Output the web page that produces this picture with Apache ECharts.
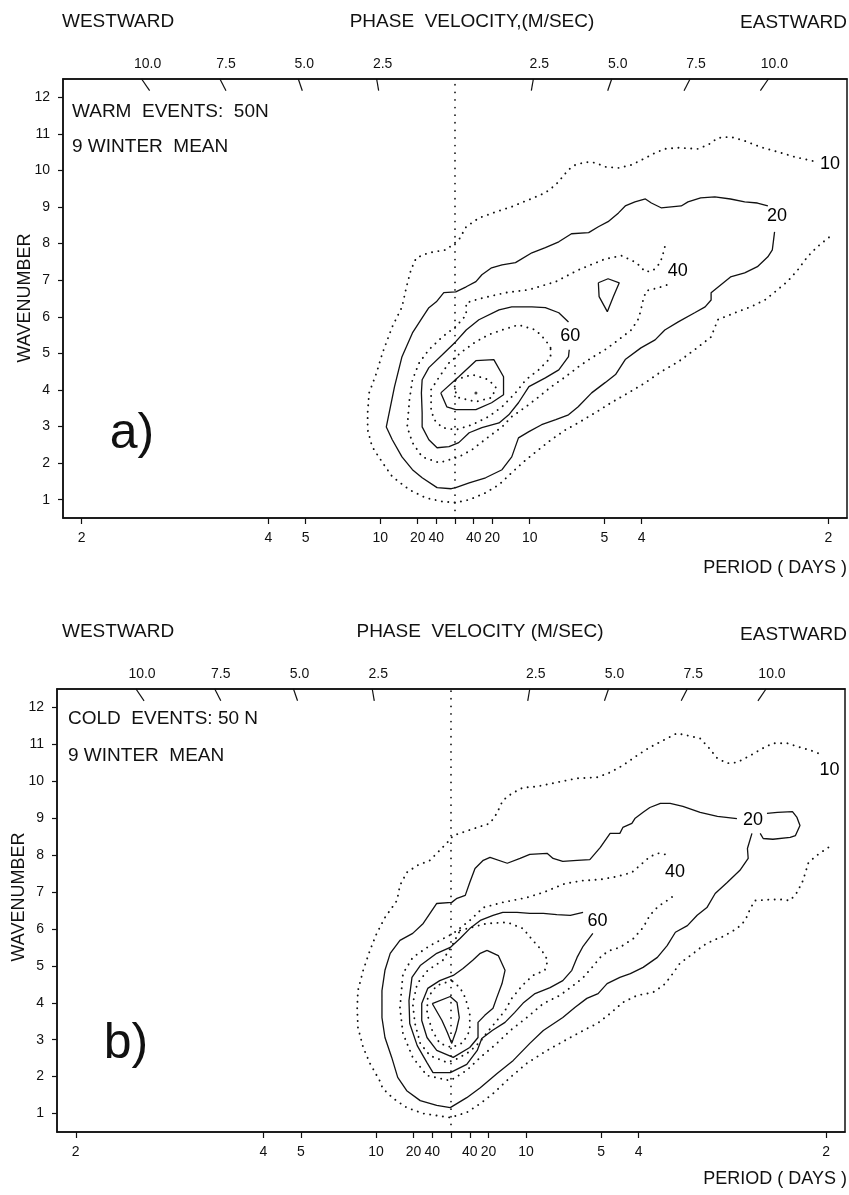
<!DOCTYPE html>
<html><head><meta charset="utf-8">
<script src="https://cdn.jsdelivr.net/npm/echarts@6/dist/echarts.min.js"></script>
<style>html,body{margin:0;padding:0;background:#fff}#c{width:849px;height:1195px}</style>
</head><body><div id="c"></div>
<script>
// ---------- axis data ----------
const periodDays = [2, 4, 5, 10, 20, 40];              // period tick labels (days), both directions
const velocityTicks = [2.5, 5.0, 7.5, 10.0];            // phase velocity tick labels (m/s)
const wavenumberTicks = [1,2,3,4,5,6,7,8,9,10,11,12];
const LATITUDE = 50;                                    // deg N
const FREQ_MIN = -0.525, FREQ_MAX = 0.525;              // cycles/day
const K_MIN = 0.5, K_MAX = 12.5;

// ---------- panel a: warm events (frequency cpd, wavenumber) ----------
const warmRing1 = [[0.479,10.26],[0.455,10.37],[0.432,10.51],[0.409,10.64],[0.388,10.81],[0.369,10.92],[0.352,10.89],[0.339,10.70],[0.325,10.59],[0.299,10.62],[0.281,10.59],[0.268,10.48],[0.255,10.34],[0.236,10.15],[0.219,10.07],[0.201,10.10],[0.188,10.21],[0.175,10.23],[0.161,10.15],[0.152,10.02],[0.143,9.80],[0.135,9.61],[0.121,9.39],[0.099,9.20],[0.076,9.01],[0.055,8.87],[0.032,8.70],[0.015,8.46],[0.005,8.10],[-0.012,7.83],[-0.035,7.75],[-0.052,7.61],[-0.059,7.28],[-0.065,6.82],[-0.071,6.27],[-0.084,5.73],[-0.097,5.02],[-0.105,4.47],[-0.115,3.92],[-0.117,3.38],[-0.117,2.91],[-0.111,2.45],[-0.097,2.01],[-0.084,1.63],[-0.061,1.27],[-0.039,1.05],[-0.017,0.95],[0.001,0.92],[0.019,1.00],[0.041,1.19],[0.059,1.41],[0.076,1.74],[0.095,2.09],[0.112,2.37],[0.129,2.64],[0.148,2.91],[0.165,3.10],[0.188,3.38],[0.209,3.65],[0.232,3.92],[0.255,4.20],[0.276,4.50],[0.299,4.77],[0.321,5.10],[0.343,5.45],[0.352,5.92],[0.375,6.11],[0.396,6.27],[0.415,6.46],[0.432,6.74],[0.445,6.96],[0.459,7.28],[0.472,7.64],[0.485,7.91],[0.505,8.24]];
const warmRing2 = [[0.419,9.03],[0.405,9.11],[0.388,9.14],[0.369,9.22],[0.348,9.28],[0.329,9.25],[0.312,9.14],[0.303,9.03],[0.276,8.98],[0.263,9.11],[0.255,9.22],[0.241,9.14],[0.228,9.03],[0.219,8.84],[0.205,8.60],[0.192,8.46],[0.179,8.30],[0.156,8.27],[0.139,8.05],[0.121,7.89],[0.103,7.75],[0.081,7.48],[0.063,7.42],[0.049,7.34],[0.036,7.15],[0.028,6.96],[0.015,6.82],[0.001,6.68],[-0.015,6.66],[-0.025,6.41],[-0.035,6.25],[-0.044,5.97],[-0.057,5.56],[-0.071,4.91],[-0.081,4.09],[-0.092,2.99],[-0.084,2.64],[-0.071,2.17],[-0.057,1.82],[-0.044,1.60],[-0.024,1.33],[-0.005,1.30],[0.001,1.33],[0.019,1.46],[0.041,1.60],[0.063,1.82],[0.076,2.17],[0.085,2.69],[0.099,2.86],[0.116,3.05],[0.135,3.19],[0.152,3.32],[0.165,3.54],[0.183,3.92],[0.201,4.20],[0.215,4.42],[0.228,4.83],[0.249,5.15],[0.268,5.37],[0.281,5.64],[0.299,5.86],[0.321,6.11],[0.335,6.27],[0.343,6.46],[0.343,6.66],[0.369,7.09],[0.388,7.20],[0.405,7.37],[0.419,7.64],[0.425,7.83],[0.428,8.32]];
const warmRing3 = [[0.281,7.91],[0.279,7.75],[0.275,7.48],[0.265,7.26],[0.255,7.23],[0.243,7.48],[0.223,7.67],[0.201,7.58],[0.165,7.28],[0.135,6.96],[0.099,6.74],[0.068,6.66],[0.032,6.49],[0.015,6.38],[0.015,6.05],[0.001,5.73],[-0.017,5.45],[-0.035,5.10],[-0.048,4.74],[-0.057,4.28],[-0.061,3.73],[-0.064,2.99],[-0.057,2.56],[-0.044,2.17],[-0.021,2.01],[0.005,2.17],[0.023,2.37],[0.045,2.72],[0.063,2.99],[0.076,3.27],[0.095,3.54],[0.112,3.81],[0.129,4.09],[0.148,4.36],[0.165,4.63],[0.183,4.88],[0.201,5.10],[0.219,5.37],[0.236,5.64],[0.245,5.92],[0.248,6.11],[0.252,6.46],[0.256,6.71],[0.272,6.79],[0.288,6.90]];
const warmIsland = [[0.192,6.93],[0.205,7.04],[0.220,6.93],[0.212,6.55],[0.204,6.14],[0.193,6.55],[0.192,6.93]];
const warmRing4 = [[0.152,5.86],[0.139,6.11],[0.121,6.25],[0.103,6.27],[0.076,6.27],[0.059,6.19],[0.032,5.92],[0.015,5.64],[0.001,5.32],[-0.017,4.96],[-0.035,4.61],[-0.044,4.28],[-0.045,3.92],[-0.044,3.38],[-0.044,2.99],[-0.035,2.64],[-0.024,2.42],[-0.008,2.45],[0.005,2.56],[0.019,2.83],[0.036,2.97],[0.059,3.10],[0.072,3.32],[0.085,3.65],[0.099,4.09],[0.121,4.33],[0.139,4.55],[0.152,4.91],[0.153,5.10]];
const warmRing5 = [[0.128,5.15],[0.121,5.37],[0.108,5.64],[0.085,5.78],[0.063,5.64],[0.045,5.51],[0.028,5.32],[0.009,5.04],[-0.008,4.74],[-0.021,4.36],[-0.032,4.01],[-0.032,3.46],[-0.028,3.19],[-0.017,2.97],[0.001,2.91],[0.023,3.05],[0.045,3.27],[0.063,3.54],[0.081,3.92],[0.095,4.28],[0.112,4.55],[0.128,4.88],[0.128,5.15]];
const warmRing6 = [[-0.019,3.92],[0.005,4.36],[0.028,4.80],[0.052,4.83],[0.065,4.36],[0.065,3.87],[0.049,3.65],[0.028,3.46],[0.001,3.46],[-0.011,3.54],[-0.019,3.92]];
const warmRing7 = [[0.001,4.28],[0.023,4.42],[0.045,4.28],[0.055,4.06],[0.049,3.79],[0.028,3.68],[0.005,3.79],[-0.001,4.01],[0.001,4.28]];
const warmPeak = [[0.028,3.92]];
const warmLabels = [[0.503,10.15,'10'],[0.432,8.73,'20'],[0.299,7.23,'40'],[0.155,5.45,'60']];

// ---------- panel b: cold events ----------
const coldRing1 = [[0.489,10.76],[0.479,10.84],[0.465,10.92],[0.448,11.03],[0.429,11.03],[0.415,10.89],[0.399,10.70],[0.381,10.51],[0.368,10.49],[0.355,10.62],[0.343,10.92],[0.332,11.16],[0.315,11.24],[0.301,11.30],[0.283,11.11],[0.265,10.92],[0.248,10.70],[0.229,10.43],[0.212,10.24],[0.195,10.11],[0.168,10.08],[0.141,9.97],[0.115,9.86],[0.096,9.83],[0.081,9.67],[0.069,9.48],[0.061,9.13],[0.052,8.86],[0.035,8.75],[0.016,8.62],[0.003,8.53],[-0.005,8.34],[-0.015,8.13],[-0.028,7.86],[-0.045,7.72],[-0.059,7.53],[-0.068,7.18],[-0.072,6.77],[-0.088,6.31],[-0.099,5.88],[-0.108,5.42],[-0.117,4.88],[-0.124,4.33],[-0.125,3.87],[-0.124,3.33],[-0.117,2.79],[-0.108,2.36],[-0.095,1.89],[-0.091,1.68],[-0.077,1.41],[-0.059,1.16],[-0.037,1.00],[-0.001,0.89],[0.021,1.03],[0.039,1.27],[0.056,1.54],[0.079,1.98],[0.101,2.36],[0.128,2.71],[0.159,3.06],[0.181,3.30],[0.195,3.44],[0.212,3.71],[0.229,4.01],[0.248,4.20],[0.269,4.28],[0.283,4.47],[0.292,4.69],[0.305,5.07],[0.323,5.34],[0.336,5.55],[0.349,5.69],[0.363,5.80],[0.381,6.01],[0.392,6.23],[0.399,6.56],[0.405,6.77],[0.428,6.80],[0.439,6.80],[0.452,6.77],[0.461,6.99],[0.469,7.31],[0.476,7.78],[0.485,7.96],[0.503,8.21]];
const coldRing2 = [[0.381,8.99],[0.355,9.05],[0.332,9.16],[0.309,9.32],[0.292,9.40],[0.279,9.40],[0.265,9.29],[0.256,9.16],[0.245,8.99],[0.241,8.86],[0.229,8.75],[0.225,8.59],[0.212,8.59],[0.199,8.21],[0.185,7.88],[0.168,7.86],[0.149,7.83],[0.136,7.91],[0.128,8.05],[0.105,8.02],[0.092,7.91],[0.075,7.78],[0.052,7.94],[0.043,7.86],[0.032,7.64],[0.025,7.26],[0.019,6.91],[0.008,6.83],[0.001,6.72],[-0.019,6.69],[-0.028,6.42],[-0.037,6.15],[-0.051,5.88],[-0.068,5.69],[-0.081,5.34],[-0.088,4.88],[-0.092,4.33],[-0.092,3.60],[-0.088,3.06],[-0.079,2.52],[-0.071,1.98],[-0.059,1.62],[-0.041,1.35],[-0.019,1.22],[-0.001,1.16],[0.021,1.43],[0.039,1.70],[0.061,2.08],[0.083,2.44],[0.105,2.90],[0.123,3.25],[0.149,3.60],[0.165,3.87],[0.181,4.12],[0.196,4.25],[0.208,4.52],[0.225,4.69],[0.239,4.79],[0.256,4.96],[0.275,5.23],[0.288,5.55],[0.299,5.91],[0.315,6.09],[0.328,6.37],[0.341,6.58],[0.352,6.96],[0.368,7.26],[0.385,7.59],[0.396,7.91],[0.395,8.18],[0.401,8.59]];
const coldRing2Loop = [[0.421,9.13],[0.435,9.16],[0.455,9.18],[0.461,9.02],[0.465,8.80],[0.459,8.53],[0.452,8.48],[0.429,8.43],[0.416,8.45],[0.412,8.59]];
const coldRing3 = [[0.285,8.02],[0.276,8.05],[0.265,7.96],[0.255,7.78],[0.241,7.53],[0.221,7.42],[0.199,7.34],[0.176,7.31],[0.152,7.23],[0.123,6.99],[0.101,6.85],[0.069,6.72],[0.043,6.58],[0.025,6.23],[0.003,5.88],[-0.028,5.55],[-0.051,5.23],[-0.064,4.79],[-0.068,3.87],[-0.064,3.17],[-0.051,2.52],[-0.032,2.03],[-0.001,1.89],[0.021,2.17],[0.039,2.52],[0.061,2.90],[0.079,3.25],[0.101,3.60],[0.123,3.98],[0.145,4.20],[0.159,4.41],[0.175,4.66],[0.188,4.96],[0.201,5.28],[0.212,5.42],[0.225,5.50],[0.243,5.74],[0.256,6.04],[0.265,6.37],[0.276,6.61],[0.288,6.77],[0.301,6.96]];
const coldRing4 = [[0.176,6.45],[0.159,6.37],[0.141,6.39],[0.123,6.42],[0.105,6.42],[0.088,6.45],[0.069,6.45],[0.056,6.37],[0.039,6.23],[0.025,6.01],[0.012,5.74],[-0.001,5.50],[-0.019,5.34],[-0.041,5.01],[-0.052,4.69],[-0.056,4.06],[-0.055,3.44],[-0.045,2.84],[-0.032,2.38],[-0.024,2.11],[-0.001,2.11],[0.021,2.33],[0.035,2.71],[0.041,3.03],[0.055,3.25],[0.072,3.47],[0.085,3.74],[0.097,4.01],[0.112,4.25],[0.132,4.41],[0.149,4.60],[0.161,4.88],[0.168,5.23],[0.176,5.53],[0.189,5.88]];
const coldRing5 = [[0.012,5.96],[0.048,6.15],[0.075,6.18],[0.096,6.01],[0.109,5.69],[0.121,5.42],[0.129,5.15],[0.125,4.88],[0.109,4.74],[0.095,4.47],[0.081,4.12],[0.072,3.79],[0.060,3.49],[0.049,3.22],[0.039,2.95],[0.025,2.68],[0.009,2.49],[-0.005,2.38],[-0.028,2.57],[-0.041,2.90],[-0.048,3.44],[-0.051,3.98],[-0.045,4.52],[-0.031,4.88],[-0.011,5.15],[0.003,5.61],[0.012,5.96]];
const coldRing6 = [[0.048,5.42],[0.063,5.28],[0.072,4.88],[0.068,4.52],[0.061,4.14],[0.056,3.85],[0.045,3.66],[0.036,3.47],[0.036,3.06],[0.025,2.79],[0.003,2.52],[-0.019,2.71],[-0.032,3.06],[-0.039,3.52],[-0.039,3.98],[-0.031,4.39],[-0.015,4.60],[0.003,4.74],[0.016,4.93],[0.029,5.15],[0.039,5.34],[0.048,5.42]];
const coldRing7 = [[0.001,4.60],[-0.019,4.47],[-0.031,4.14],[-0.032,3.71],[-0.025,3.25],[-0.015,2.90],[0.001,2.79],[0.016,2.92],[0.025,3.25],[0.025,3.71],[0.019,4.14],[0.012,4.41],[0.001,4.60]];
const coldRing8 = [[-0.025,3.98],[-0.001,4.17],[0.008,4.01],[0.011,3.60],[0.007,3.25],[0.001,2.90],[-0.005,3.20],[-0.012,3.52],[-0.025,3.98]];
const coldLabels = [[0.505,10.30,'10'],[0.403,8.94,'20'],[0.299,7.53,'40'],[0.196,6.20,'60']];

// ---------- build ----------
const FONT = '"Liberation Sans", Arial, Helvetica, sans-serif';
const INK = '#111';
// phase velocity (m/s) of wave with frequency f (cpd) and wavenumber k at LATITUDE
const C_FACTOR = 2 * Math.PI * 6.371e6 * Math.cos(LATITUDE * Math.PI / 180) / 86400;
const K_TICK_END = 12.18;
const periodFreqs = [...periodDays.map(p => -1 / p), 0, ...periodDays.map(p => 1 / p)];
const velFreqsTop = [...velocityTicks.map(c => -c * K_MAX / C_FACTOR), ...velocityTicks.map(c => c * K_MAX / C_FACTOR)];

const SOLID = {color: INK, width: 1.3, type: 'solid'};
const DOTTED = {color: INK, width: 1.9, type: [0.1, 6.3], cap: 'round'};
const CENTER = {color: INK, width: 1.7, type: [0.1, 7.5], cap: 'round'};

function lineSeries(data, style, xi, yi) {
  return {type: 'line', xAxisIndex: xi, yAxisIndex: yi, data: data, symbol: 'none',
    lineStyle: style, silent: true, animation: false, z: 3, clip: false};
}
function panelSeries(rings, labels, xi, yi) {
  const s = [];
  rings.forEach(r => s.push(lineSeries(r[0], r[1] ? DOTTED : SOLID, xi, yi)));
  s.push(lineSeries([[0, K_MIN], [0, K_MAX]], CENTER, xi, yi));
  velocityTicks.forEach(c => {
    [-1, 1].forEach(sg => {
      s.push(lineSeries([[sg * c * K_MAX / C_FACTOR, K_MAX], [sg * c * K_TICK_END / C_FACTOR, K_TICK_END]],
        {color: INK, width: 1.2}, xi, yi));
    });
  });
  s.push({type: 'scatter', xAxisIndex: xi, yAxisIndex: yi, data: labels, symbolSize: 1,
    itemStyle: {color: '#fff'}, silent: true, animation: false, z: 5,
    label: {show: true, position: [0, 0], align: 'center', verticalAlign: 'middle',
      formatter: p => p.data[2], fontSize: 18, fontFamily: FONT, color: '#000',
      textBorderWidth: 0, opacity: 1}});
  return s;
}
function axesFor(gi) {
  const axisLine = {show: true, onZero: false, lineStyle: {color: INK, width: 1.5}};
  return {
    x: [
      {gridIndex: gi, type: 'value', min: FREQ_MIN, max: FREQ_MAX, position: 'bottom',
        axisLine: axisLine, splitLine: {show: false},
        axisTick: {show: true, customValues: periodFreqs, length: 6, lineStyle: {color: INK, width: 1.2}},
        axisLabel: {customValues: periodFreqs, margin: 13, fontSize: 14, fontFamily: FONT, color: INK,
          formatter: v => Math.abs(v) < 1e-9 ? '' : String(Math.round(1 / Math.abs(v)))}},
      {gridIndex: gi, type: 'value', min: FREQ_MIN, max: FREQ_MAX, position: 'top',
        axisLine: axisLine, splitLine: {show: false}, axisTick: {show: false},
        axisLabel: {customValues: velFreqsTop, margin: 8, fontSize: 14, fontFamily: FONT, color: INK,
          padding: [0, 0, 0, 12],
          formatter: v => (Math.abs(v) * C_FACTOR / K_MAX).toFixed(1)}}
    ],
    y: {gridIndex: gi, type: 'value', min: K_MIN, max: K_MAX,
      axisLine: axisLine, splitLine: {show: false},
      axisTick: {show: true, customValues: wavenumberTicks, length: 5, lineStyle: {color: INK, width: 1.2}},
      axisLabel: {customValues: wavenumberTicks, margin: 13, fontSize: 14, fontFamily: FONT, color: INK}}
  };
}
const A = axesFor(0), B = axesFor(1);

function txt(text, x, y, size, align, extra) {
  return Object.assign({type: 'text', x: x, y: y, silent: true,
    style: {text: text, fontSize: size, fontFamily: FONT, fill: INK, align: align || 'left', verticalAlign: 'middle'}}, extra || {});
}

const option = {
  backgroundColor: '#fff',
  animation: false,
  grid: [
    {left: 63, top: 79, width: 784, height: 439, show: true, borderColor: INK, borderWidth: 1.5, containLabel: false, outerBoundsMode: 'none'},
    {left: 57, top: 689, width: 788, height: 443, show: true, borderColor: INK, borderWidth: 1.5, containLabel: false, outerBoundsMode: 'none'}
  ],
  xAxis: [A.x[0], A.x[1], B.x[0], B.x[1]],
  yAxis: [A.y, B.y],
  series: [].concat(
    panelSeries([[warmRing1, true], [warmRing2, false], [warmRing3, true], [warmIsland, false],
      [warmRing4, false], [warmRing5, true], [warmRing6, false], [warmRing7, true]], warmLabels, 0, 0),
    [{type: 'scatter', xAxisIndex: 0, yAxisIndex: 0, data: warmPeak, symbolSize: 3,
      itemStyle: {color: INK}, silent: true, animation: false}],
    panelSeries([[coldRing1, true], [coldRing2, false], [coldRing2Loop, false], [coldRing3, true],
      [coldRing4, false], [coldRing5, true], [coldRing6, false], [coldRing7, true], [coldRing8, false]], coldLabels, 2, 1)
  ),
  graphic: [
    txt('WESTWARD', 62, 22, 19),
    txt('PHASE  VELOCITY,(M/SEC)', 472, 22, 19, 'center'),
    txt('EASTWARD', 847, 23, 19, 'right'),
    txt('WARM  EVENTS:  50N', 72, 112, 19),
    txt('9 WINTER  MEAN', 72, 147, 19),
    txt('a)', 132, 434, 50, 'center'),
    txt('PERIOD ( DAYS )', 847, 568, 18, 'right'),
    txt('WAVENUMBER', 25, 298, 18, 'center', {rotation: Math.PI / 2}),

    txt('WESTWARD', 62, 632, 19),
    txt('PHASE  VELOCITY (M/SEC)', 480, 632, 19, 'center'),
    txt('EASTWARD', 847, 635, 19, 'right'),
    txt('COLD  EVENTS: 50 N', 68, 719, 19),
    txt('9 WINTER  MEAN', 68, 756, 19),
    txt('b)', 126, 1044, 50, 'center'),
    txt('PERIOD ( DAYS )', 847, 1179, 18, 'right'),
    txt('WAVENUMBER', 19, 897, 18, 'center', {rotation: Math.PI / 2})
  ]
};
const chart = echarts.init(document.getElementById('c'), null, {renderer: 'canvas'});
chart.setOption(option);
</script></body></html>
